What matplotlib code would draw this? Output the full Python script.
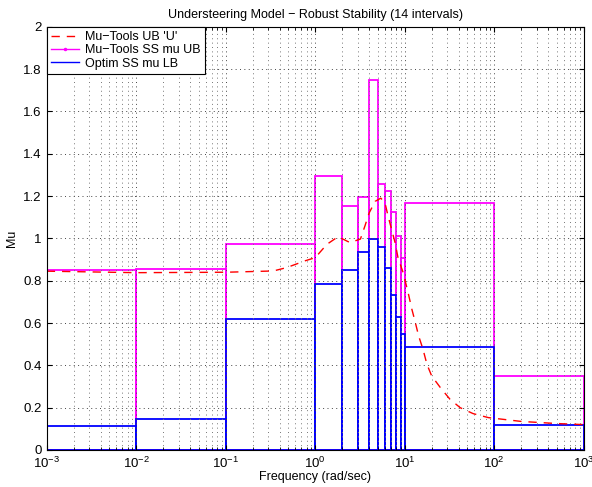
import matplotlib.pyplot as plt
import numpy as np

plt.rcParams['font.family'] = ['Liberation Sans', 'DejaVu Sans']

# interval edges (rad/sec), 14 intervals
edges = [1e-3, 1e-2, 1e-1, 1, 2, 3, 4, 5, 6, 7, 8, 9, 10, 100, 1000]
ss_ub = [0.85, 0.855, 0.975, 1.295, 1.152, 1.195, 1.75, 1.256, 1.226,
         1.126, 1.009, 0.906, 1.165, 0.35]
ss_lb = [0.115, 0.145, 0.62, 0.785, 0.85, 0.937, 0.999, 0.958, 0.86,
         0.733, 0.629, 0.546, 0.486, 0.116]

# Mu-Tools frequency-gridded upper bound
ub_freq = [1e-3, 1e-2, 0.1, 0.34, 0.48, 0.77, 1.0, 1.35, 1.8, 2.45, 3.2,
           3.6, 4.0, 4.67, 5.4, 6.0, 6.5, 7.8, 8.4, 9.6, 11, 12, 13, 14.3,
           16, 17.7, 20, 25, 32, 41.6, 58, 86, 200, 500, 1000]
ub_mu = [0.845, 0.838, 0.84, 0.846, 0.862, 0.894, 0.909, 0.972, 1.008,
         0.98, 0.997, 1.06, 1.12, 1.175, 1.19, 1.17, 1.107, 0.98, 0.91,
         0.838, 0.737, 0.666, 0.61, 0.539, 0.476, 0.405, 0.35, 0.295, 0.24,
         0.2, 0.172, 0.153, 0.135, 0.125, 0.12]

left = np.array(edges[:-1])
width = np.diff(edges)

fig = plt.figure(figsize=(5.92, 4.87), dpi=100)
ax = fig.add_axes([0.079, 0.076, 0.907, 0.869])

ax.plot(ub_freq, ub_mu, 'r--', lw=1, dashes=(6, 5), label="Mu\u2212Tools UB 'U'")
ax.bar(left, ss_ub, width=width, align='edge', fill=False,
       edgecolor='#ff00ff', lw=1.3)
ax.bar(left, ss_lb, width=width, align='edge', fill=False,
       edgecolor='#0000ff', lw=1.3)
# legend proxies
ax.plot([], [], '.-', color='#ff00ff', lw=1, ms=3, label='Mu\u2212Tools SS mu UB')
ax.plot([], [], '-', color='#0000ff', lw=1, label='Optim SS mu LB')

ax.set_xscale('log')
ax.set_xlim(1e-3, 1e3)
ax.set_ylim(0, 2)
ax.set_yticks(np.arange(0, 2.01, 0.2))
ax.set_yticklabels(['0', '0.2', '0.4', '0.6', '0.8', '1', '1.2', '1.4',
                    '1.6', '1.8', '2'])
ax.grid(True, which='major', ls=(0, (1, 3.5)), color='#444444', lw=0.7)
ax.grid(True, which='minor', axis='x', ls=(0, (1, 3.5)), color='#777777', lw=0.7)
ax.tick_params(which='both', direction='in', top=True, right=True, labelsize=9.5)
ax.tick_params(axis='x', pad=4)

ax.set_xlabel('Frequency (rad/sec)', fontsize=9, labelpad=0)
ax.set_ylabel('Mu', fontsize=9)
ax.set_title('Understeering Model \u2212 Robust Stability (14 intervals)', fontsize=9)

leg = ax.legend(loc='upper left', fontsize=9, fancybox=False, framealpha=1,
                edgecolor='k', borderaxespad=0, handlelength=2.2,
                borderpad=0.35, labelspacing=0.1, handletextpad=0.5)
leg.get_frame().set_linewidth(0.8)

fig.savefig('out.png', dpi=100)
